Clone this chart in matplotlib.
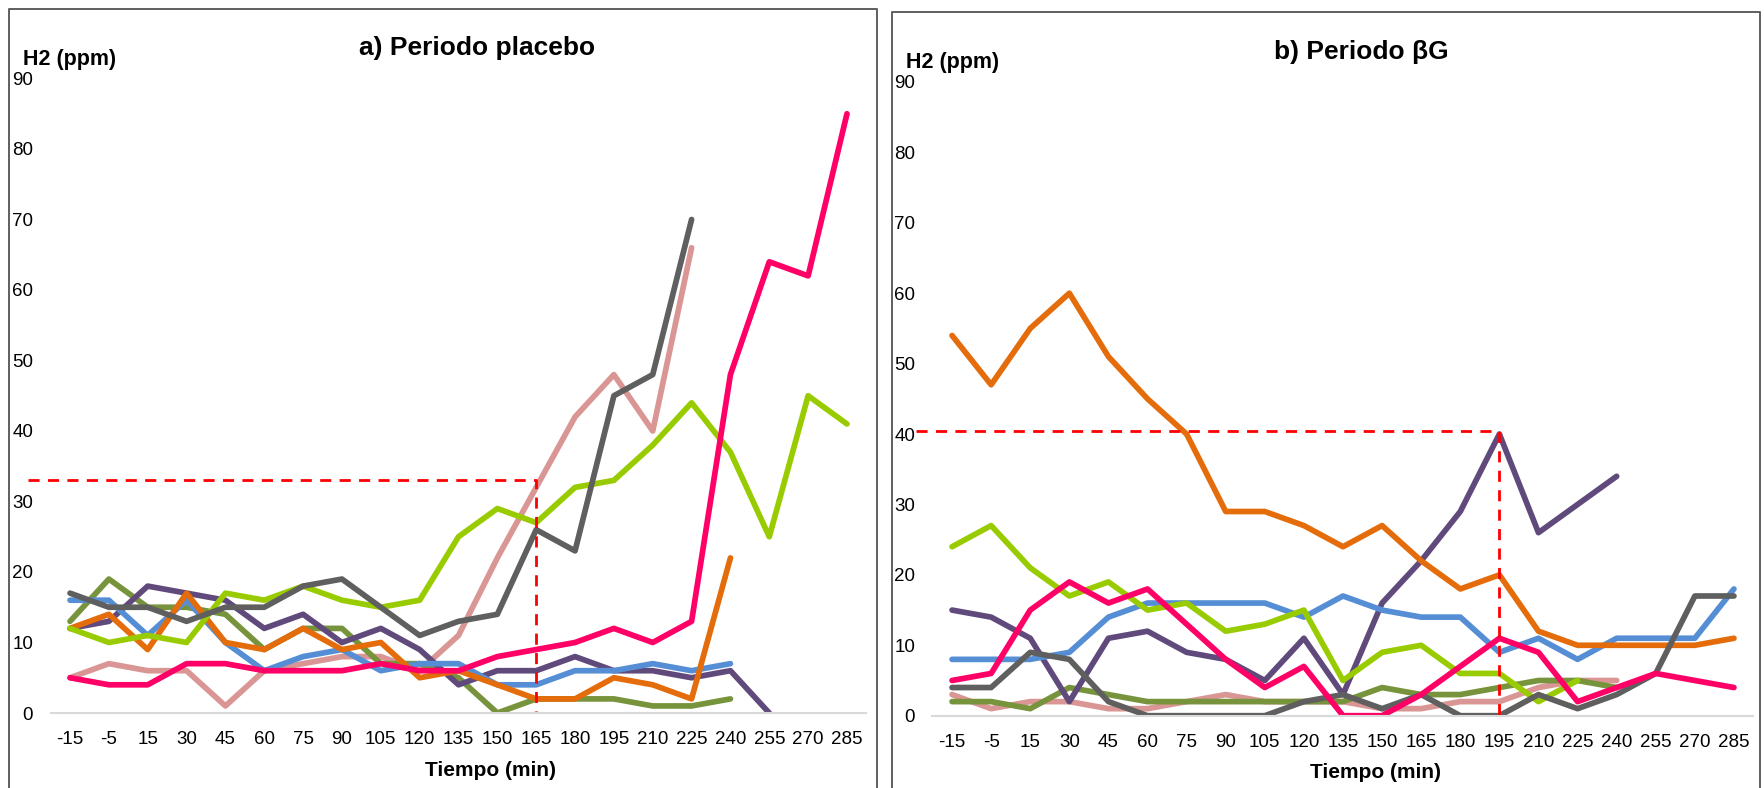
import numpy as np
import matplotlib
matplotlib.use("Agg")
import matplotlib.pyplot as plt
from matplotlib.lines import Line2D

plt.rcParams['font.family'] = ['Liberation Sans', 'DejaVu Sans']

# tiempos (min)
times = ['-15', '-5', '15', '30', '45', '60', '75', '90', '105', '120', '135',
         '150', '165', '180', '195', '210', '225', '240', '255', '270', '285']
N = None

# a) Periodo placebo
pl_salmon = [5, 7, 6, 6, 1, 6, 7, 8, 8, 6, 11, 22, 32, 42, 48, 40, 66, N, N, N, N]
pl_olive = [13, 19, 15, 15, 14, 9, 12, 12, 7, 7, 5, 0, 2, 2, 2, 1, 1, 2, N, N, N]
pl_purple = [12, 13, 18, 17, 16, 12, 14, 10, 12, 9, 4, 6, 6, 8, 6, 6, 5, 6, 0, N, N]
pl_blue = [16, 16, 11, 16, 10, 6, 8, 9, 6, 7, 7, 4, 4, 6, 6, 7, 6, 7, N, N, N]
pl_orange = [12, 14, 9, 17, 10, 9, 12, 9, 10, 5, 6, 4, 2, 2, 5, 4, 2, 22, N, N, N]
pl_lime = [12, 10, 11, 10, 17, 16, 18, 16, 15, 16, 25, 29, 27, 32, 33, 38, 44, 37, 25, 45, 41]
pl_gray = [17, 15, 15, 13, 15, 15, 18, 19, 15, 11, 13, 14, 26, 23, 45, 48, 70, N, N, N, N]
pl_magenta = [5, 4, 4, 7, 7, 6, 6, 6, 7, 6, 6, 8, 9, 10, 12, 10, 13, 48, 64, 62, 85]

# b) Periodo bG
bg_salmon = [3, 1, 2, 2, 1, 1, 2, 3, 2, 2, 2, 1, 1, 2, 2, 4, 5, 5, N, N, N]
bg_olive = [2, 2, 1, 4, 3, 2, 2, 2, 2, 2, 2, 4, 3, 3, 4, 5, 5, 4, N, N, N]
bg_purple = [15, 14, 11, 2, 11, 12, 9, 8, 5, 11, 3, 16, 22, 29, 40, 26, 30, 34, N, N, N]
bg_blue = [8, 8, 8, 9, 14, 16, 16, 16, 16, 14, 17, 15, 14, 14, 9, 11, 8, 11, 11, 11, 18]
bg_orange = [54, 47, 55, 60, 51, 45, 40, 29, 29, 27, 24, 27, 22, 18, 20, 12, 10, 10, 10, 10, 11]
bg_lime = [24, 27, 21, 17, 19, 15, 16, 12, 13, 15, 5, 9, 10, 6, 6, 2, 5, N, N, N, N]
bg_gray = [4, 4, 9, 8, 2, 0, 0, 0, 0, 2, 3, 1, 3, 0, 0, 3, 1, 3, 6, 17, 17]
bg_magenta = [5, 6, 15, 19, 16, 18, 13, 8, 4, 7, 0, 0, 3, 7, 11, 9, 2, 4, 6, 5, 4]

colors = ['#D99694', '#77933C', '#604A7B', '#558ED5', '#E46C0A', '#99CC00', '#5F5F5F', '#FF0066']

# umbral marcado (linea roja discontinua): (indice de tiempo, ppm)
pl_mark = (12, 33)
bg_mark = (14, 40.4)

W, H = 1765, 788
fig = plt.figure(figsize=(W / 100, H / 100), dpi=100)


def px(x0, y0, x1, y1):
    # pixel box -> figure fraction [left, bottom, width, height]
    return [x0 / W, 1 - y1 / H, (x1 - x0) / W, (y1 - y0) / H]


def panel(rect, series, mark, mark_x0):
    ax = fig.add_axes(rect)
    x = np.arange(len(times))
    for s, c in zip(series, colors):
        y = np.array([np.nan if v is None else v for v in s], dtype=float)
        ax.plot(x, y, color=c, lw=4.1, solid_capstyle='round', solid_joinstyle='round')
    mx, my = mark
    ax.plot([mark_x0, mx, mx], [my, my, 0], color='#FF0000', lw=2, dashes=(4, 3), clip_on=False)
    ax.set_xlim(-0.5, len(times) - 0.5)
    ax.set_ylim(0, 90)
    ax.set_yticks(range(0, 91, 10))
    ax.set_xticks(x)
    ax.set_xticklabels(times)
    ax.tick_params(axis='both', length=0, labelsize=13.5)
    ax.tick_params(axis='y', pad=12.5)
    ax.tick_params(axis='x', pad=13)
    for side in ['top', 'right', 'left']:
        ax.spines[side].set_visible(False)
    ax.spines['bottom'].set_color('#D9D9D9')
    ax.spines['bottom'].set_linewidth(1.5)
    return ax


ax1 = panel(px(50.6, 78.5, 866.4, 713), [pl_salmon, pl_olive, pl_purple, pl_blue, pl_orange,
                                         pl_lime, pl_gray, pl_magenta], pl_mark, -1.08)
ax2 = panel(px(932.5, 82, 1753.5, 715.7), [bg_salmon, bg_olive, bg_purple, bg_blue, bg_orange,
                                           bg_lime, bg_gray, bg_magenta], bg_mark, -0.92)

# marcos de cada grafico
for x0, y0, x1 in [(9, 8.5, 877), (892, 12, 1760)]:
    fig.add_artist(Line2D([x0 / W, x0 / W, x1 / W, x1 / W], [0, 1 - y0 / H, 1 - y0 / H, 0],
                          transform=fig.transFigure, color='#5F5F5F', lw=1.4))

# textos
fig.text(477 / W, 1 - 55.5 / H, 'a) Periodo placebo', ha='center', va='baseline',
         fontsize=19, fontweight='bold')
fig.text(1361 / W, 1 - 58.5 / H, 'b) Periodo βG', ha='center', va='baseline',
         fontsize=19, fontweight='bold')
fig.text(23 / W, 1 - 65 / H, 'H2 (ppm)', ha='left', va='baseline', fontsize=15.5, fontweight='bold')
fig.text(906 / W, 1 - 68 / H, 'H2 (ppm)', ha='left', va='baseline', fontsize=15.5, fontweight='bold')
fig.text(491 / W, 1 - 776 / H, 'Tiempo (min)', ha='center', va='baseline', fontsize=15, fontweight='bold')
fig.text(1376 / W, 1 - 778 / H, 'Tiempo (min)', ha='center', va='baseline', fontsize=15, fontweight='bold')

fig.savefig('out.png', dpi=100)
